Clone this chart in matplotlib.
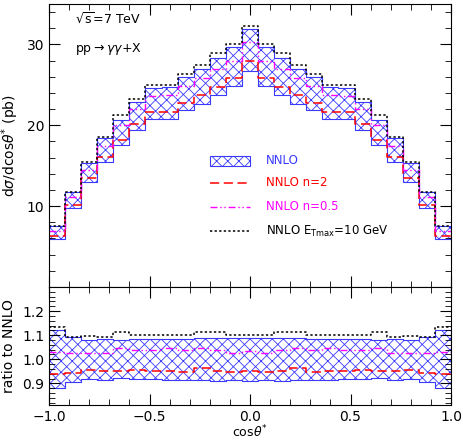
import numpy as np
import matplotlib
matplotlib.use("Agg")
import matplotlib.pyplot as plt
from matplotlib.patches import Rectangle

edges = np.linspace(-1, 1, 26)
upper_half = [7.5, 11.8, 15.3, 18.4, 20.6, 22.9, 24.6, 24.7, 26.0, 26.9, 28.3, 29.7, 31.9]
lower_half = [5.9, 9.8, 13.0, 15.5, 17.6, 19.4, 20.8, 20.8, 21.9, 22.6, 23.7, 24.9, 26.7]
n2_half = [6.3, 10.2, 13.5, 16.1, 18.2, 20.2, 21.6, 21.6, 22.7, 23.8, 24.7, 25.9, 27.9]
n05_half = [6.9, 11.1, 14.5, 17.4, 20.0, 22.0, 23.6, 23.8, 24.9, 25.9, 27.0, 28.0, 30.3]
et_half = [7.6, 11.8, 15.5, 18.5, 21.3, 23.3, 25.0, 25.0, 26.4, 27.5, 28.9, 30.0, 32.3]

def full(h):
    h = list(h)
    return np.array(h + h[-2::-1])

upper, lower = full(upper_half), full(lower_half)
n2, n05, et = full(n2_half), full(n05_half), full(et_half)
nom = 0.5 * (upper + lower)

fig = plt.figure(figsize=(4.63, 4.43), dpi=100)
ax = fig.add_axes([49/463, 1-287/443, 402/463, 283/443])
axr = fig.add_axes([49/463, 1-405/443, 402/463, 118/443])

BLUE = "#3a3aff"
plt.rcParams['hatch.linewidth'] = 0.6
RED_LS = (0, (6, 3))
MAG_LS = (0, (5, 2, 1, 2, 1, 2))
BLK_LS = (0, (1.5, 1.5))

def band(a, lo, hi):
    a.fill_between(edges, np.append(lo, lo[-1]), np.append(hi, hi[-1]), step="post",
                   facecolor="white", edgecolor=BLUE, hatch="xxx", linewidth=0.8)

def steps(a, y, **kw):
    a.step(edges, np.append(y, y[-1]), where="post", **kw)

for a, d in ((ax, 1.0), (axr, nom)):
    band(a, lower / d, upper / d)
    steps(a, n2 / d, color="red", ls=RED_LS, lw=1.1)
    steps(a, n05 / d, color="magenta", ls=MAG_LS, lw=1.0)
    steps(a, et / d, color="black", ls=BLK_LS, lw=1.1)

ax.set_xlim(-1, 1); ax.set_ylim(0, 35)
axr.set_xlim(-1, 1); axr.set_ylim(0.81, 1.3)
ax.set_yticks([10, 20, 30]); ax.set_yticks(np.arange(2, 35, 2), minor=True)
axr.set_yticks([0.9, 1.0, 1.1, 1.2]); axr.set_yticks(np.arange(0.82, 1.3, 0.02), minor=True)
for a in (ax, axr):
    a.set_xticks(np.arange(-1, 1.01, 0.5))
    a.set_xticks(np.arange(-1, 1.01, 0.1), minor=True)
    a.tick_params(which="both", direction="in", top=True, right=True, labelsize=10)
    a.tick_params(which="major", length=8)
    a.tick_params(which="minor", length=4)
ax.set_xticklabels([])
axr.set_yticklabels(["0.9", "1.0", "1.1", "1.2"])
ax.set_ylabel(r"d$\sigma$/dcos$\theta^{*}$ (pb)", fontsize=10)
axr.set_ylabel("ratio to NNLO", fontsize=10)
axr.set_xlabel(r"cos$\theta^{*}$", fontsize=9, labelpad=0)

ax.text(0.065, 0.93, r"$\sqrt{\rm s}$=7 TeV", transform=ax.transAxes, fontsize=9)
ax.text(0.065, 0.83, r"pp$\rightarrow\gamma\gamma$+X", transform=ax.transAxes, fontsize=9)

lx0, lx1, tx = -0.20, 0.0, 0.08
ys = [15.6, 12.9, 9.9, 6.9]
ax.add_patch(Rectangle((lx0, ys[0]-0.6), lx1-lx0, 1.2, facecolor="white", edgecolor=BLUE, hatch="xxx", lw=0.8))
ax.plot([lx0, lx1], [ys[1]]*2, color="red", ls=RED_LS, lw=1.1)
ax.plot([lx0, lx1], [ys[2]]*2, color="magenta", ls=MAG_LS, lw=1.0)
ax.plot([lx0, lx1], [ys[3]]*2, color="black", ls=BLK_LS, lw=1.1)
ax.text(tx, ys[0], "NNLO", color=BLUE, va="center", fontsize=8.5)
ax.text(tx, ys[1], "NNLO n=2", color="red", va="center", fontsize=8.5)
ax.text(tx, ys[2], "NNLO n=0.5", color="magenta", va="center", fontsize=8.5)
ax.text(tx, ys[3], r"NNLO E$_{\rm Tmax}$=10 GeV", color="black", va="center", fontsize=8.5)

fig.savefig("out.png", dpi=100)
